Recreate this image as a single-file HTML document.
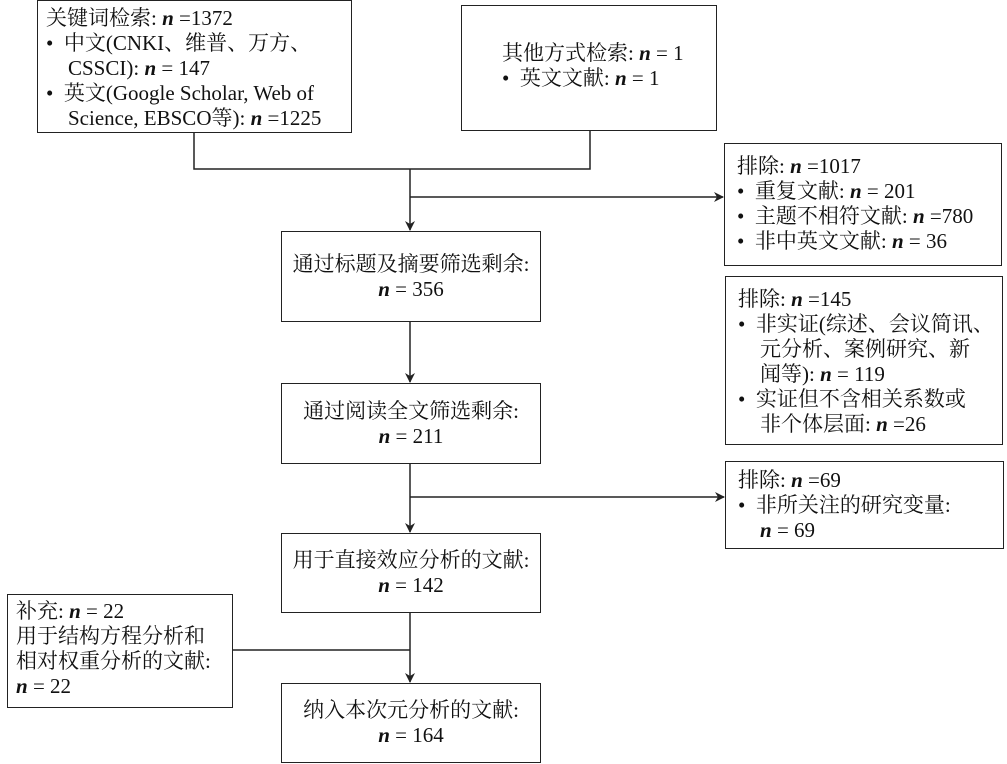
<!DOCTYPE html>
<html><head><meta charset="utf-8"><style>
body{margin:0;width:1007px;height:764px;background:#fff;position:relative;overflow:hidden;font-family:"Liberation Serif","Noto Serif CJK SC",serif;font-size:21px;color:#111;}
.b{position:absolute;border:1.5px solid #222;box-sizing:border-box;line-height:25px;white-space:nowrap;}
.c{display:flex;flex-direction:column;justify-content:center;align-items:center;text-align:center;}
i{font-style:italic;font-weight:bold;}
.li{padding-left:22px;text-indent:-22px;}
svg{position:absolute;left:0;top:0;}
</style></head><body>
<svg width="1007" height="764"><defs><marker id="a" markerWidth="10" markerHeight="10" refX="9" refY="5" orient="auto" markerUnits="userSpaceOnUse"><path d="M0,0 L10,5 L0,10 L3,5z" fill="#222"/></marker></defs>
<g stroke="#222" stroke-width="1.5" fill="none">
<path d="M194,132 V169 H590 V130"/>
<path d="M410,169 V230" marker-end="url(#a)"/>
<path d="M410,197 H723" marker-end="url(#a)"/>
<path d="M410,321 V382" marker-end="url(#a)"/>
<path d="M410,463 V532" marker-end="url(#a)"/>
<path d="M410,497 H724" marker-end="url(#a)"/>
<path d="M410,612 V682" marker-end="url(#a)"/>
<path d="M232,650 H410"/>
</g></svg>
<div class="b" style="left:37px;top:0;width:315px;height:133px;padding:5px 8px"><div>关键词检索: <i>n</i> =1372</div><div class="li">• &nbsp;中文(CNKI、维普、万方、<br>CSSCI): <i>n</i> = 147</div><div class="li">• &nbsp;英文(Google Scholar, Web of<br>Science, EBSCO等): <i>n</i> =1225</div></div>
<div class="b" style="left:461px;top:5px;width:256px;height:126px;padding:35px 0 0 40px"><div>其他方式检索: <i>n</i> = 1</div><div>• &nbsp;英文文献: <i>n</i> = 1</div></div>
<div class="b" style="left:724px;top:143px;width:278px;height:123px;padding:10px 12px"><div>排除: <i>n</i> =1017</div><div>• &nbsp;重复文献: <i>n</i> = 201</div><div>• &nbsp;主题不相符文献: <i>n</i> =780</div><div>• &nbsp;非中英文文献: <i>n</i> = 36</div></div>
<div class="b c" style="left:281px;top:231px;width:260px;height:91px"><div>通过标题及摘要筛选剩余:</div><div><i>n</i> = 356</div></div>
<div class="b" style="left:725px;top:276px;width:278px;height:169px;padding:10px 12px"><div>排除: <i>n</i> =145</div><div class="li">• &nbsp;非实证(综述、会议简讯、<br>元分析、案例研究、新<br>闻等): <i>n</i> = 119</div><div class="li">• &nbsp;实证但不含相关系数或<br>非个体层面: <i>n</i> =26</div></div>
<div class="b c" style="left:281px;top:383px;width:260px;height:81px"><div>通过阅读全文筛选剩余:</div><div><i>n</i> = 211</div></div>
<div class="b" style="left:725px;top:461px;width:279px;height:88px;padding:6px 12px"><div>排除: <i>n</i> =69</div><div class="li">• &nbsp;非所关注的研究变量:<br><i>n</i> = 69</div></div>
<div class="b c" style="left:281px;top:533px;width:260px;height:80px"><div>用于直接效应分析的文献:</div><div><i>n</i> = 142</div></div>
<div class="b" style="left:7px;top:594px;width:226px;height:114px;padding:4px 8px"><div>补充: <i>n</i> = 22</div><div>用于结构方程分析和<br>相对权重分析的文献:</div><div><i>n</i> = 22</div></div>
<div class="b c" style="left:281px;top:683px;width:260px;height:80px"><div>纳入本次元分析的文献:</div><div><i>n</i> = 164</div></div>
</body></html>
